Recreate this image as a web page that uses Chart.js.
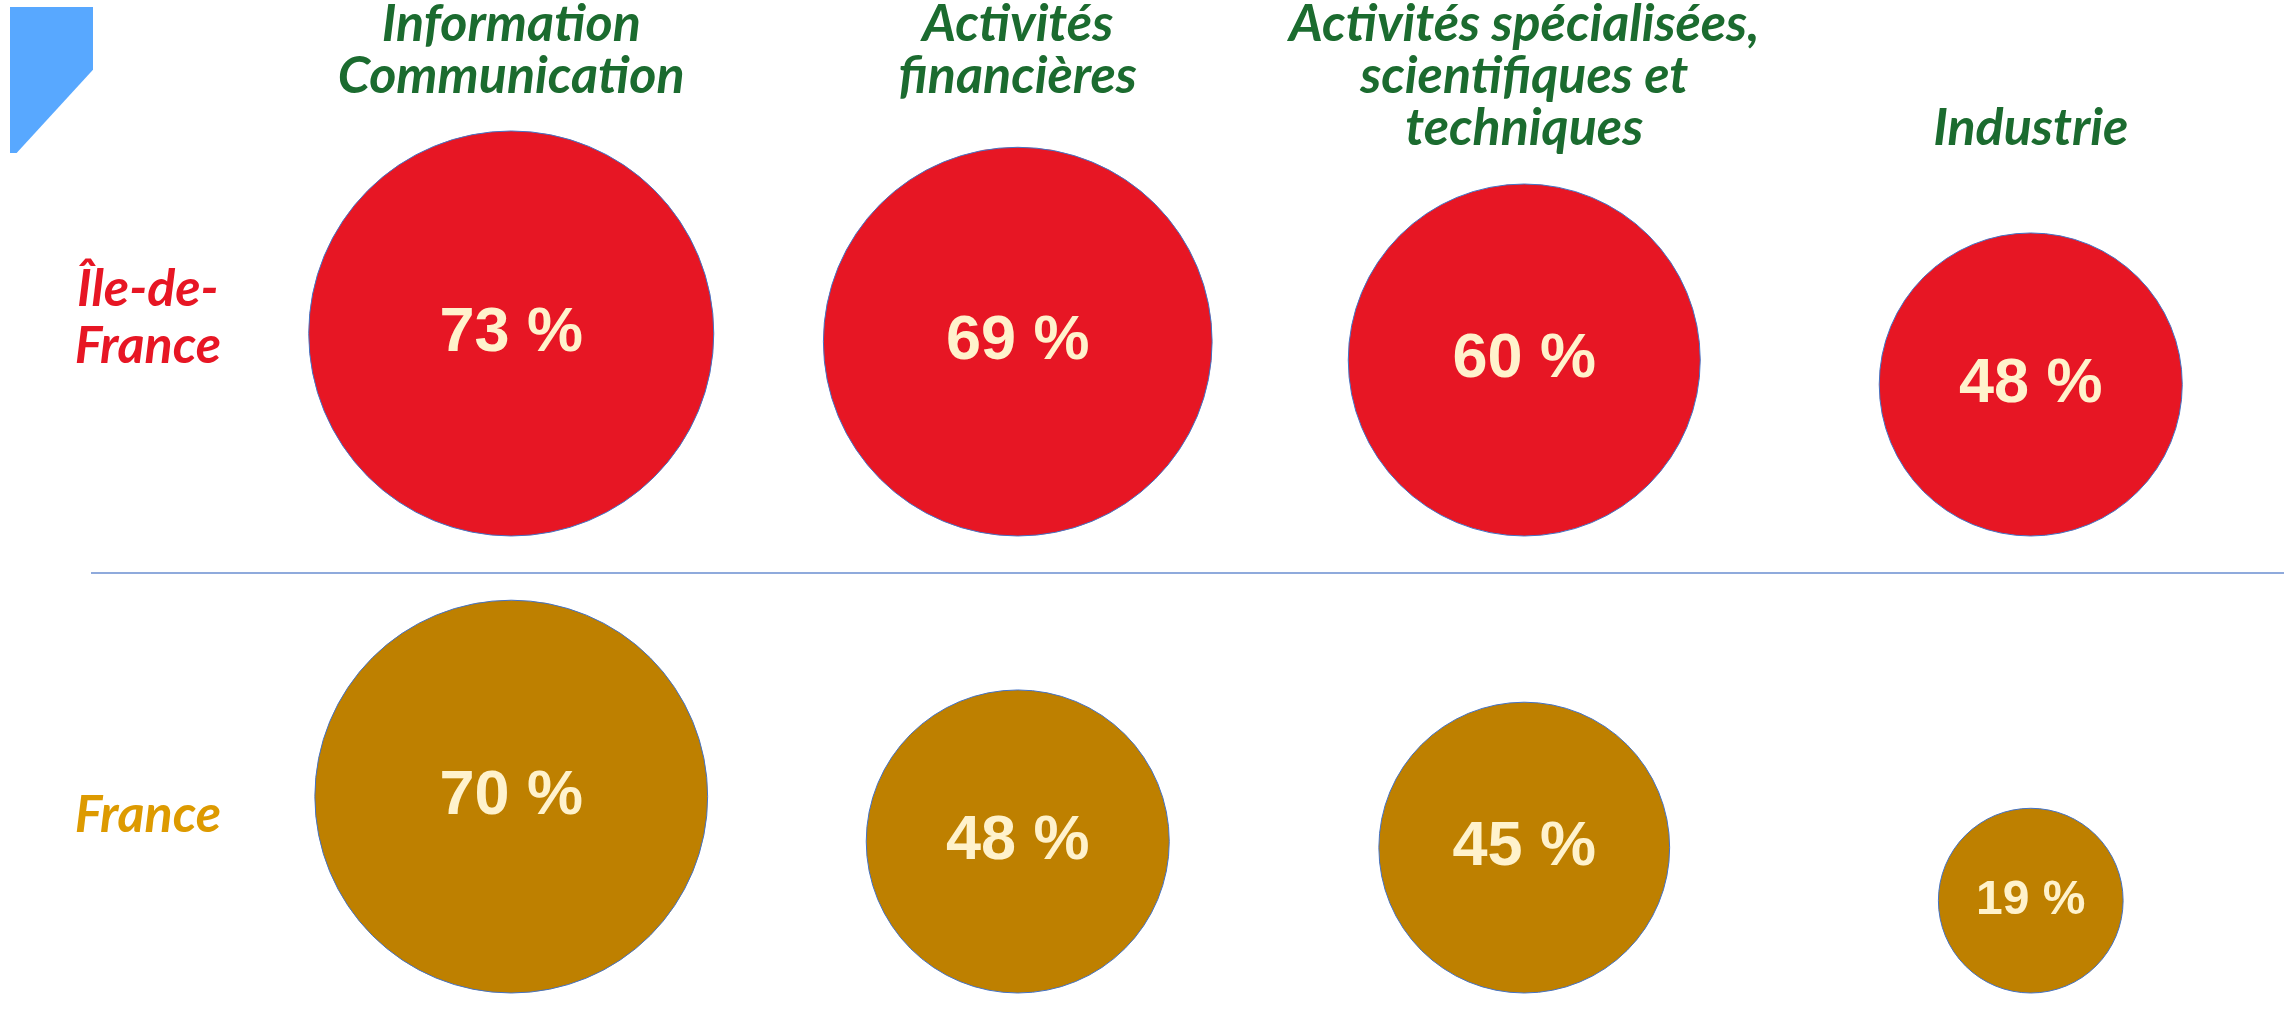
<!DOCTYPE html>
<html lang="fr">
<head>
<meta charset="utf-8">
<title>Secteurs – Île-de-France / France</title>
<script src="https://cdn.jsdelivr.net/npm/chart.js@4.4.1/dist/chart.umd.min.js"></script>
<style>
  html, body { margin: 0; padding: 0; background: #fff; }
  #wrap { position: relative; width: 2296px; height: 1009px; overflow: hidden; }
  #corner {
    position: absolute; left: 10px; top: 7px; width: 83px; height: 146px;
    background: #58a8ff;
    clip-path: polygon(0 0, 100% 0, 100% 43%, 8% 100%, 0 100%);
  }
</style>
</head>
<body>
<div id="wrap">
  <canvas id="chart" width="2296" height="1009"></canvas>
  <div id="corner"></div>
</div>
<script>
// categories (multi-line labels, Industrie pushed down to its own row)
const sectors = [
  ["Information", "Communication"],
  ["Activités", "financières"],
  ["Activités spécialisées,", "scientifiques et", "techniques"],
  ["", "", "Industrie"]
];
const regions = [["Île-de-", "France"], "France"];
const idfValues = [73, 69, 60, 48];
const franceValues = [70, 48, 45, 19];

const RED = "#e71624";
const GOLD = "#be8000";
const GOLD_TEXT = "#dd9a00";
const GREEN = "#1b6b2f";

// vertical layout (y axis is in canvas px units)
const TOP = 160;
const ROW_LABEL_Y = [318, 815];
const ROW_BASE = [536, 993];   // circles of a row sit on this line
const SEP_Y = 573;

// bubble size scale
const radiusFor = v => 53.6 + 2.04 * v;

function points(values, row) {
  return values.map((v, i) => ({ x: i, y: ROW_BASE[row] - radiusFor(v), r: radiusFor(v) }));
}

const valueLabels = {
  id: "valueLabels",
  afterDatasetsDraw(chart) {
    const ctx = chart.ctx;
    const all = [idfValues, franceValues];
    chart.data.datasets.forEach((ds, di) => {
      chart.getDatasetMeta(di).data.forEach((pt, i) => {
        const size = Math.min(63, Math.round(pt.options.radius * 0.52));
        ctx.save();
        ctx.font = "bold " + size + "px 'Liberation Sans', Arial, sans-serif";
        ctx.fillStyle = "#fff2cc";
        ctx.textAlign = "center";
        ctx.textBaseline = "middle";
        ctx.fillText(all[di][i] + " %", pt.x, pt.y);
        ctx.restore();
      });
    });
  }
};

new Chart(document.getElementById("chart"), {
  type: "bubble",
  data: {
    labels: sectors,
    datasets: [
      { label: "Île-de-France", data: points(idfValues, 0), backgroundColor: RED,
        borderColor: "#4472c4", borderWidth: 1, clip: false },
      { label: "France", data: points(franceValues, 1), backgroundColor: GOLD,
        borderColor: "#4472c4", borderWidth: 1, clip: false }
    ]
  },
  options: {
    responsive: false,
    animation: false,
    events: [],
    layout: { autoPadding: false, padding: { left: 0, right: 12, top: 0, bottom: 0 } },
    plugins: { legend: { display: false }, tooltip: { enabled: false } },
    scales: {
      x: {
        type: "category",
        position: "top",
        offset: true,
        grid: { display: false, drawTicks: false },
        border: { display: false },
        ticks: {
          autoSkip: false, maxRotation: 0, minRotation: 0,
          crossAlign: "far", padding: 6, color: GREEN,
          font: { family: "Lato", size: 52, weight: "bold", style: "italic", lineHeight: 1.0 }
        },
        afterFit: s => { s.height = TOP; }
      },
      y: {
        type: "linear",
        reverse: true,
        min: TOP,
        max: 1009,
        afterBuildTicks: s => {
          s.ticks = [ROW_LABEL_Y[0], SEP_Y, ROW_LABEL_Y[1]].map(v => ({ value: v }));
        },
        afterFit: s => { s.width = 258; },
        border: { display: false },
        grid: {
          drawOnChartArea: true, drawTicks: true, tickLength: 167, lineWidth: 2,
          color: c => (c.tick && c.tick.value === SEP_Y) ? "#8faadc" : "rgba(0,0,0,0)"
        },
        ticks: {
          crossAlign: "center", padding: -130,
          color: c => (c.tick && c.tick.value === ROW_LABEL_Y[0]) ? RED : GOLD_TEXT,
          font: { family: "Lato", size: 52, weight: "bold", style: "italic", lineHeight: 1.1 },
          callback: v => v === ROW_LABEL_Y[0] ? regions[0] : (v === ROW_LABEL_Y[1] ? regions[1] : "")
        }
      }
    }
  },
  plugins: [valueLabels]
});
</script>
</body>
</html>
